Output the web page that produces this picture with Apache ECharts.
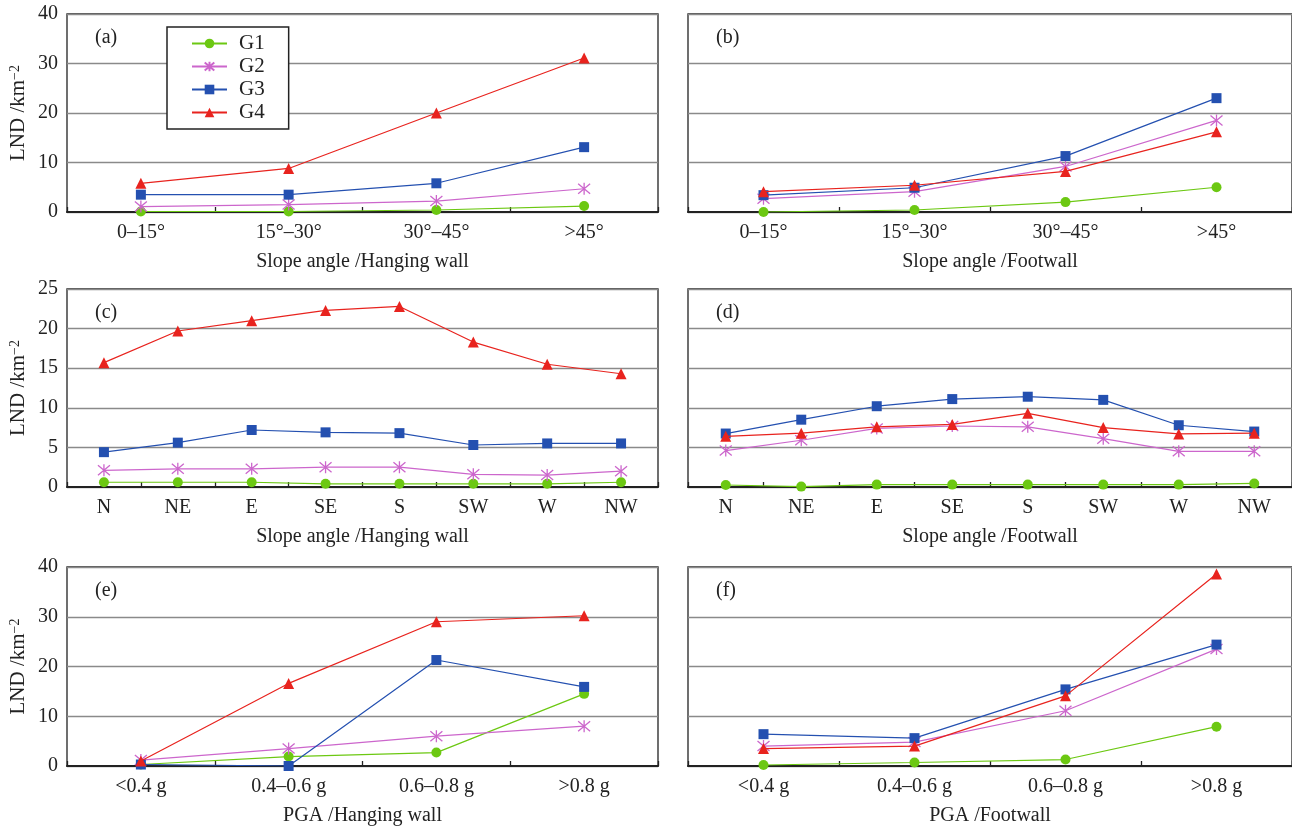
<!DOCTYPE html>
<html><head><meta charset="utf-8">
<script src="https://cdn.jsdelivr.net/npm/echarts@6/dist/echarts.min.js"></script>
<style>html,body{margin:0;padding:0;background:#fff}#c{width:1292px;height:833px}</style>
</head><body><div id="c"></div>
<script>
// ---- data ----
const catSlope = ['0–15°', '15°–30°', '30°–45°', '>45°'];
const catAspect = ['N', 'NE', 'E', 'SE', 'S', 'SW', 'W', 'NW'];
const catPGA = ['<0.4 g', '0.4–0.6 g', '0.6–0.8 g', '>0.8 g'];
const seriesNames = ['G1', 'G2', 'G3', 'G4'];
const panelLabels = ['(a)', '(b)', '(c)', '(d)', '(e)', '(f)'];
const xNames = ['Slope angle /Hanging wall', 'Slope angle /Footwall', 'Slope angle /Hanging wall', 'Slope angle /Footwall', 'PGA /Hanging wall', 'PGA /Footwall'];
const yMax = [40, 40, 25, 25, 40, 40];
const yStep = [10, 10, 5, 5, 10, 10];

const a_G1 = [0.1, 0.1, 0.4, 1.2];
const a_G2 = [1.1, 1.5, 2.2, 4.7];
const a_G3 = [3.5, 3.5, 5.8, 13.1];
const a_G4 = [5.8, 8.8, 20.0, 31.1];

const b_G1 = [0.0, 0.4, 2.0, 5.0];
const b_G2 = [2.7, 4.1, 9.2, 18.5];
const b_G3 = [3.4, 4.9, 11.3, 23.0];
const b_G4 = [4.1, 5.4, 8.2, 16.2];

const c_G1 = [0.6, 0.6, 0.6, 0.4, 0.4, 0.4, 0.4, 0.6];
const c_G2 = [2.1, 2.3, 2.3, 2.5, 2.5, 1.6, 1.5, 2.0];
const c_G3 = [4.4, 5.6, 7.2, 6.9, 6.8, 5.3, 5.5, 5.5];
const c_G4 = [15.7, 19.7, 21.0, 22.3, 22.8, 18.3, 15.5, 14.3];

const d_G1 = [0.25, 0.05, 0.3, 0.3, 0.3, 0.3, 0.3, 0.45];
const d_G2 = [4.6, 5.9, 7.4, 7.7, 7.6, 6.1, 4.5, 4.5];
const d_G3 = [6.75, 8.5, 10.2, 11.1, 11.4, 11.0, 7.8, 7.0];
const d_G4 = [6.4, 6.8, 7.6, 7.9, 9.3, 7.5, 6.7, 6.8];

const e_G1 = [0.3, 1.9, 2.7, 14.5];
const e_G2 = [1.2, 3.5, 6.0, 8.0];
const e_G3 = [0.3, 0.0, 21.3, 15.9];
const e_G4 = [1.0, 16.6, 29.0, 30.2];

const f_G1 = [0.2, 0.7, 1.3, 7.9];
const f_G2 = [4.0, 4.8, 11.1, 23.5];
const f_G3 = [6.4, 5.6, 15.4, 24.4];
const f_G4 = [3.5, 4.0, 14.1, 38.6];

// ---- layout/style ----
const panels = [
  {cats: catSlope, data: [a_G1, a_G2, a_G3, a_G4]},
  {cats: catSlope, data: [b_G1, b_G2, b_G3, b_G4]},
  {cats: catAspect, data: [c_G1, c_G2, c_G3, c_G4]},
  {cats: catAspect, data: [d_G1, d_G2, d_G3, d_G4]},
  {cats: catPGA, data: [e_G1, e_G2, e_G3, e_G4]},
  {cats: catPGA, data: [f_G1, f_G2, f_G3, f_G4]}
];
const gridPos = [
  {left: 67, top: 14, width: 591, height: 198},
  {left: 688, top: 14, width: 606, height: 198},
  {left: 67, top: 289, width: 591, height: 198},
  {left: 688, top: 289, width: 606, height: 198},
  {left: 67, top: 567, width: 591, height: 199},
  {left: 688, top: 567, width: 606, height: 199}
];
const FONT = '"Liberation Serif", "DejaVu Serif", serif';
const colors = ['#6cc812', '#cc66cc', '#2450b0', '#e8231e'];
const symbols = ['circle', 'path://M0,0L10,10M10,0L0,10M5,-1L5,11', 'rect', 'triangle'];
const symSizes = [10, 12, 10, 11];

const grid = [], xAxis = [], yAxis = [], series = [], graphic = [];
panels.forEach((p, i) => {
  grid.push(Object.assign({show: true, borderColor: '#222', borderWidth: 1.3, backgroundColor: '#fff'}, gridPos[i]));
  xAxis.push({
    type: 'category', gridIndex: i, data: p.cats, boundaryGap: true,
    name: xNames[i], nameLocation: 'middle', nameGap: 40,
    nameTextStyle: {fontFamily: FONT, fontSize: 20, color: '#222'},
    axisLine: {show: true, lineStyle: {color: '#222', width: 2}},
    axisTick: {show: true, inside: true, length: 5, lineStyle: {color: '#222', width: 1.3}},
    axisLabel: {fontFamily: FONT, fontSize: 20, color: '#222', margin: 11},
    splitLine: {show: false}
  });
  const left = (i % 2 === 0);
  yAxis.push({
    type: 'value', gridIndex: i, min: 0, max: yMax[i], interval: yStep[i],
    name: left ? 'LND /km{s|−2}' : '', nameLocation: 'middle', nameGap: 38, nameRotate: 90,
    nameTextStyle: {fontFamily: FONT, fontSize: 21, color: '#222',
      rich: {s: {fontFamily: FONT, fontSize: 14, color: '#222', verticalAlign: 'top', lineHeight: 10}}},
    axisLine: {show: false}, axisTick: {show: false},
    axisLabel: {show: left, fontFamily: FONT, fontSize: 20, color: '#222', margin: 9},
    splitLine: {show: true, lineStyle: {color: '#8a8a8a', width: 1.3}}
  });
  p.data.forEach((d, k) => {
    const s = {
      type: 'line', name: seriesNames[k], xAxisIndex: i, yAxisIndex: i, data: d,
      symbol: symbols[k], symbolSize: symSizes[k], showSymbol: true,
      lineStyle: {color: colors[k], width: 1.2},
      itemStyle: {color: colors[k], borderWidth: 0},
      animation: false, z: 3 + k
    };
    if (k === 1) s.itemStyle = {color: colors[k], borderColor: colors[k], borderWidth: 1.3};
    series.push(s);
  });
  graphic.push({type: 'text', left: gridPos[i].left + 28, top: gridPos[i].top + 14,
    style: {text: panelLabels[i], font: '20px ' + FONT, fill: '#222'}, z: 100});
});

const chart = echarts.init(document.getElementById('c'), null, {renderer: 'canvas'});
chart.setOption({
  animation: false,
  backgroundColor: '#fff',
  grid, xAxis, yAxis, series, graphic,
  legend: {
    show: true, orient: 'vertical', left: 167, top: 27,
    data: seriesNames,
    backgroundColor: '#fff', borderColor: '#222', borderWidth: 1.5,
    padding: [6, 24, 6, 24], itemWidth: 35, itemHeight: 12, itemGap: 2,
    textStyle: {fontFamily: FONT, fontSize: 21, color: '#222', padding: [0, 0, 0, 7]}
  }
});
</script></body></html>
